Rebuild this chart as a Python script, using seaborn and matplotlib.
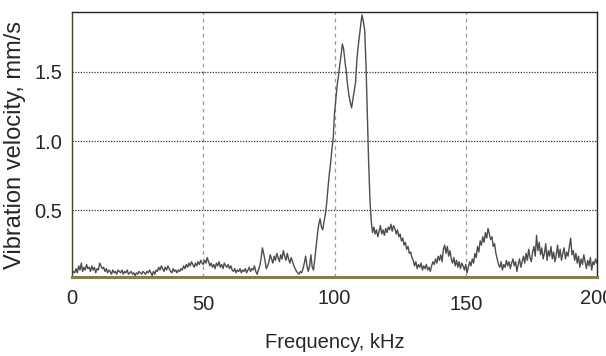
import numpy as np
import pandas as pd
import matplotlib
matplotlib.use("Agg")
import matplotlib.pyplot as plt
import seaborn as sns

# Frequency step 0.5 kHz, 0..200 kHz
freq_start = 0.0
freq_step = 0.5
velocity = [
    0.04,0.06,0.05,0.08,0.05,0.10,0.07,0.12,0.06,0.09,0.07,0.11,0.08,0.09,0.06,0.10,0.07,0.09,0.05,0.08,
    0.07,0.12,0.10,0.08,0.09,0.06,0.08,0.05,0.07,0.06,0.04,0.07,0.05,0.06,0.04,0.07,0.06,0.05,0.07,0.04,
    0.06,0.05,0.07,0.04,0.05,0.06,0.04,0.05,0.03,0.05,0.04,0.06,0.05,0.04,0.06,0.05,0.04,0.06,0.05,0.07,
    0.05,0.03,0.06,0.04,0.07,0.06,0.09,0.07,0.10,0.08,0.06,0.09,0.07,0.10,0.08,0.06,0.05,0.08,0.06,0.07,
    0.05,0.07,0.06,0.08,0.07,0.10,0.08,0.11,0.09,0.12,0.10,0.13,0.11,0.09,0.12,0.10,0.13,0.11,0.14,0.12,
    0.11,0.14,0.12,0.16,0.13,0.10,0.12,0.09,0.11,0.08,0.12,0.10,0.13,0.09,0.11,0.08,0.12,0.10,0.09,0.11,
    0.08,0.10,0.07,0.06,0.08,0.05,0.07,0.06,0.08,0.05,0.07,0.06,0.08,0.05,0.07,0.09,0.06,0.08,0.07,0.10,
    0.06,0.04,0.07,0.10,0.15,0.23,0.19,0.14,0.08,0.10,0.13,0.18,0.15,0.12,0.17,0.14,0.19,0.16,0.13,0.18,
    0.15,0.21,0.17,0.14,0.19,0.15,0.12,0.16,0.13,0.10,0.08,0.06,0.05,0.04,0.06,0.05,0.08,0.12,0.17,0.10,
    0.06,0.10,0.18,0.09,0.07,0.15,0.24,0.33,0.40,0.44,0.38,0.36,0.42,0.47,0.55,0.66,0.76,0.84,0.94,1.02,
    1.20,1.30,1.40,1.47,1.55,1.62,1.70,1.66,1.57,1.50,1.40,1.33,1.28,1.24,1.30,1.36,1.42,1.58,1.68,1.76,
    1.84,1.91,1.86,1.80,1.55,1.20,0.85,0.58,0.42,0.34,0.38,0.33,0.36,0.31,0.35,0.39,0.33,0.36,0.32,0.37,
    0.34,0.38,0.36,0.40,0.35,0.39,0.37,0.33,0.36,0.31,0.33,0.28,0.30,0.25,0.27,0.22,0.24,0.19,0.20,0.16,
    0.14,0.10,0.13,0.08,0.11,0.09,0.12,0.07,0.10,0.08,0.11,0.07,0.09,0.06,0.10,0.13,0.11,0.15,0.12,0.17,
    0.14,0.18,0.13,0.22,0.25,0.19,0.24,0.17,0.21,0.15,0.12,0.16,0.10,0.14,0.09,0.13,0.08,0.12,0.10,0.07,
    0.11,0.05,0.09,0.13,0.10,0.15,0.12,0.19,0.16,0.24,0.20,0.28,0.25,0.31,0.27,0.34,0.30,0.37,0.33,0.29,
    0.31,0.24,0.26,0.19,0.15,0.11,0.09,0.13,0.07,0.11,0.09,0.14,0.10,0.13,0.08,0.12,0.15,0.10,0.13,0.06,
    0.11,0.15,0.09,0.13,0.17,0.12,0.19,0.14,0.22,0.16,0.13,0.20,0.24,0.17,0.32,0.21,0.27,0.18,0.23,0.15,
    0.19,0.26,0.14,0.21,0.17,0.24,0.15,0.20,0.13,0.18,0.25,0.16,0.22,0.14,0.19,0.23,0.15,0.20,0.17,0.24,
    0.30,0.18,0.21,0.14,0.19,0.12,0.17,0.09,0.15,0.11,0.18,0.13,0.08,0.14,0.10,0.16,0.07,0.13,0.11,0.15,
    0.12,
]
x_ticks = [0, 50, 100, 150, 200]
x_tick_labels = ["0", "50", "100", "150", "200"]
y_ticks = [0.5, 1.0, 1.5]
y_tick_labels = ["0.5", "1.0", "1.5"]

freq = freq_start + freq_step * np.arange(len(velocity))
df = pd.DataFrame({"Frequency": freq, "Velocity": velocity})

sns.set_theme(style="white")
plt.rcParams["font.family"] = ["Liberation Sans", "DejaVu Sans"]

fig = plt.figure(figsize=(6.06, 3.56), dpi=100)
ax = fig.add_axes([0.119, 0.222, 0.866, 0.744])

sns.lineplot(data=df, x="Frequency", y="Velocity", ax=ax, color="#4d4d4d",
             linewidth=1.0, estimator=None)

ax.set_xlim(0, 200)
ax.set_ylim(0.02, 1.93)

for xv in [50, 100, 150]:
    ax.axvline(xv, color="#999999", linestyle=(0, (3, 3)), linewidth=0.9, zorder=0)
for yv in y_ticks:
    ax.axhline(yv, color="#333333", linestyle=(0, (1, 1.2)), linewidth=0.9, zorder=0)

ax.set_xticks(x_ticks)
ax.set_xticklabels(x_tick_labels, fontsize=14.5)
ax.set_yticks(y_ticks)
ax.set_yticklabels(y_tick_labels, fontsize=14.5)
ax.set_xticks(np.arange(0, 201, 10), minor=True)
ax.tick_params(axis="x", which="major", length=0, pad=9)
ax.tick_params(axis="x", which="minor", length=3, direction="in", color="#888888", width=0.7)
ax.tick_params(axis="y", which="major", length=0, pad=7)

# staggered x tick labels as in reference
for i, lab in enumerate(ax.get_xticklabels()):
    if i % 2 == 1:
        lab.set_y(-0.02)

ax.set_xlabel("Frequency, kHz", fontsize=14.5, labelpad=14)
ax.set_ylabel("Vibration velocity, mm/s", fontsize=17, labelpad=6)

for side in ["top", "right"]:
    ax.spines[side].set_color("#222222")
    ax.spines[side].set_linewidth(1.0)
ax.spines["left"].set_color("#4a4030")
ax.spines["left"].set_linewidth(1.0)
ax.spines["bottom"].set_color("#8a7a50")
ax.spines["bottom"].set_linewidth(2.2)

fig.savefig("out.png", dpi=100)
